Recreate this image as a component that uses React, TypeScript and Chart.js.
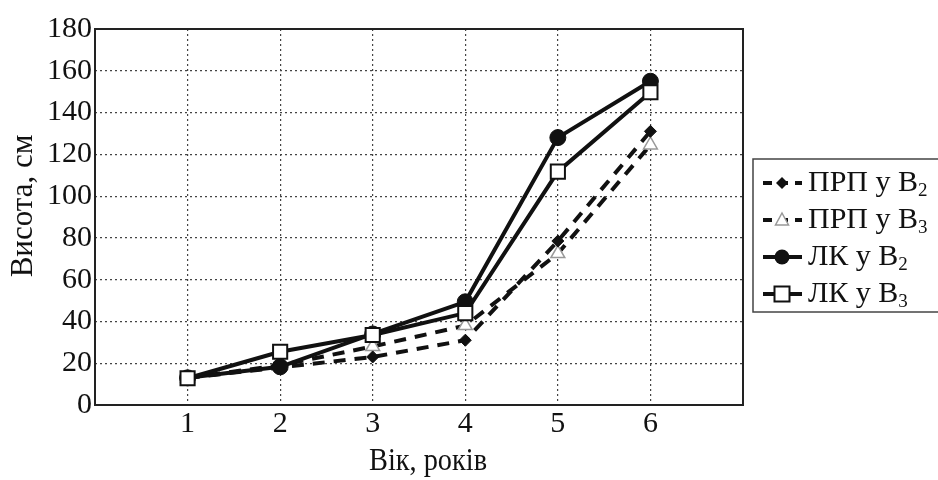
import React, { useEffect, useRef } from 'react';
import { Chart, registerables } from 'chart.js';

Chart.register(...registerables);

const ages = [1, 2, 3, 4, 5, 6];
const prpB2 = [13, 18, 23, 31, 78.5, 131];
const prpB3 = [13, 19, 28, 38, 72.5, 124.5];
const lkB2 = [13, 18.3, 34, 49.4, 128, 155];
const lkB3 = [12.8, 25.5, 33.5, 44, 111.7, 149.7];

const seriesLabels = ['ПРП у В', 'ПРП у В', 'ЛК у В', 'ЛК у В'];
const seriesSubs = ['2', '3', '2', '3'];
const xAxisTitle = 'Вік, років';
const yAxisTitle = 'Висота, см';

const FONT = '"Liberation Serif", "Times New Roman", serif';

function drawMarker(ctx: CanvasRenderingContext2D, kind: string, x: number, y: number) {
  ctx.save();
  ctx.setLineDash([]);
  if (kind === 'diamond') {
    ctx.fillStyle = '#111';
    ctx.beginPath();
    ctx.moveTo(x, y - 6);
    ctx.lineTo(x + 6, y);
    ctx.lineTo(x, y + 6);
    ctx.lineTo(x - 6, y);
    ctx.closePath();
    ctx.fill();
  } else if (kind === 'triangle') {
    ctx.fillStyle = '#fff';
    ctx.strokeStyle = '#999';
    ctx.lineWidth = 1.5;
    ctx.beginPath();
    ctx.moveTo(x, y - 7);
    ctx.lineTo(x + 6.5, y + 5);
    ctx.lineTo(x - 6.5, y + 5);
    ctx.closePath();
    ctx.fill();
    ctx.stroke();
  } else if (kind === 'circle') {
    ctx.fillStyle = '#111';
    ctx.beginPath();
    ctx.arc(x, y, 7.5, 0, Math.PI * 2);
    ctx.fill();
  } else {
    ctx.fillStyle = '#fff';
    ctx.strokeStyle = '#111';
    ctx.lineWidth = 2;
    ctx.fillRect(x - 7.5, y - 7.5, 15, 15);
    ctx.strokeRect(x - 7.5, y - 7.5, 15, 15);
  }
  ctx.restore();
}

const markerKinds = ['diamond', 'triangle', 'circle', 'square'];
const dashKinds = [true, true, false, false];

const framePlugin = {
  id: 'frameLegend',
  afterDraw(chart: any) {
    const ctx: CanvasRenderingContext2D = chart.ctx;
    const a = chart.chartArea;
    ctx.save();
    ctx.strokeStyle = '#222';
    ctx.lineWidth = 2;
    ctx.setLineDash([]);
    ctx.strokeRect(a.left, a.top, a.right - a.left, a.bottom - a.top);

    // axis titles
    ctx.fillStyle = '#111';
    ctx.font = `31px ${FONT}`;
    ctx.textAlign = 'center';
    ctx.textBaseline = 'middle';
    ctx.fillText(xAxisTitle, 428, 462, 118);
    ctx.save();
    ctx.translate(24, 206);
    ctx.rotate(-Math.PI / 2);
    ctx.fillText(yAxisTitle, 0, 0, 154);
    ctx.restore();

    // legend box
    const bx = 753, by = 159, bh = 153;
    ctx.strokeStyle = '#444';
    ctx.lineWidth = 1.5;
    ctx.strokeRect(bx, by, 200, bh);
    const rowYs = [183, 220, 257, 294];
    for (let i = 0; i < 4; i++) {
      const y = rowYs[i];
      ctx.strokeStyle = '#111';
      ctx.lineWidth = 4;
      ctx.setLineDash(dashKinds[i] ? [9, 7] : []);
      ctx.beginPath();
      ctx.moveTo(763, y);
      ctx.lineTo(802, y);
      ctx.stroke();
      ctx.setLineDash([]);
      drawMarker(ctx, markerKinds[i], 782, y);
      ctx.fillStyle = '#111';
      ctx.textBaseline = 'middle';
      ctx.textAlign = 'left';
      ctx.font = `30px ${FONT}`;
      ctx.fillText(seriesLabels[i], 808, y);
      const w = ctx.measureText(seriesLabels[i]).width;
      ctx.font = `19px ${FONT}`;
      ctx.fillText(seriesSubs[i], 808 + w, y + 8);
    }
    ctx.restore();
  },
};

export default function App() {
  const ref = useRef<HTMLCanvasElement>(null);
  useEffect(() => {
    document.body.style.margin = '0';
    const canvas = ref.current!;
    const mk = (vals: number[]) => ages.map((x, i) => ({ x, y: vals[i] }));
    const chart = new Chart(canvas, {
      type: 'line',
      data: {
        datasets: [
          {
            label: seriesLabels[0] + seriesSubs[0],
            data: mk(prpB2),
            borderColor: '#111',
            borderWidth: 4,
            borderDash: [12, 9],
            pointStyle: 'rectRot',
            pointRadius: 6,
            pointBackgroundColor: '#111',
            pointBorderColor: '#111',
            pointBorderWidth: 1,
            order: 3,
          },
          {
            label: seriesLabels[1] + seriesSubs[1],
            data: mk(prpB3),
            borderColor: '#111',
            borderWidth: 4,
            borderDash: [12, 9],
            pointStyle: 'triangle',
            pointRadius: 8,
            pointBackgroundColor: '#fff',
            pointBorderColor: '#999',
            pointBorderWidth: 1.5,
            order: 4,
          },
          {
            label: seriesLabels[2] + seriesSubs[2],
            data: mk(lkB2),
            borderColor: '#111',
            borderWidth: 4,
            pointStyle: 'circle',
            pointRadius: 8,
            pointBackgroundColor: '#111',
            pointBorderColor: '#111',
            pointBorderWidth: 1,
            order: 2,
          },
          {
            label: seriesLabels[3] + seriesSubs[3],
            data: mk(lkB3),
            borderColor: '#111',
            borderWidth: 4,
            pointStyle: 'rect',
            pointRadius: 10,
            pointBackgroundColor: '#fff',
            pointBorderColor: '#111',
            pointBorderWidth: 2,
            order: 1,
          },
        ],
      },
      options: {
        responsive: false,
        animation: false,
        layout: { padding: { top: 29, right: 195, left: 0, bottom: 0 } },
        plugins: {
          legend: { display: false },
          tooltip: { enabled: false },
        },
        scales: {
          x: {
            type: 'linear',
            min: 0,
            max: 7,
            ticks: {
              stepSize: 1,
              color: '#111',
              font: { family: FONT, size: 30 },
              padding: 1,
              maxRotation: 0,
              callback: (v: any) => (v >= 1 && v <= 6 ? String(v) : ''),
            },
            grid: {
              color: '#444',
              lineWidth: 1.2,
              drawTicks: false,
            },
            border: { display: false, dash: [2, 3] },
            title: { display: false },
            afterFit: (s: any) => {
              s.height = 75;
            },
          } as any,
          y: {
            min: 0,
            max: 180,
            ticks: {
              stepSize: 20,
              color: '#111',
              font: { family: FONT, size: 30 },
              padding: 3,
            },
            grid: {
              color: '#444',
              lineWidth: 1.2,
              drawTicks: false,
            },
            border: { display: false, dash: [2, 3] },
            title: { display: false },
            afterFit: (s: any) => {
              s.width = 95;
            },
          } as any,
        },
      },
      plugins: [framePlugin],
    });
    return () => chart.destroy();
  }, []);
  return (
    <div style={{ width: 938, height: 480 }}>
      <canvas ref={ref} width={938} height={480} />
    </div>
  );
}
